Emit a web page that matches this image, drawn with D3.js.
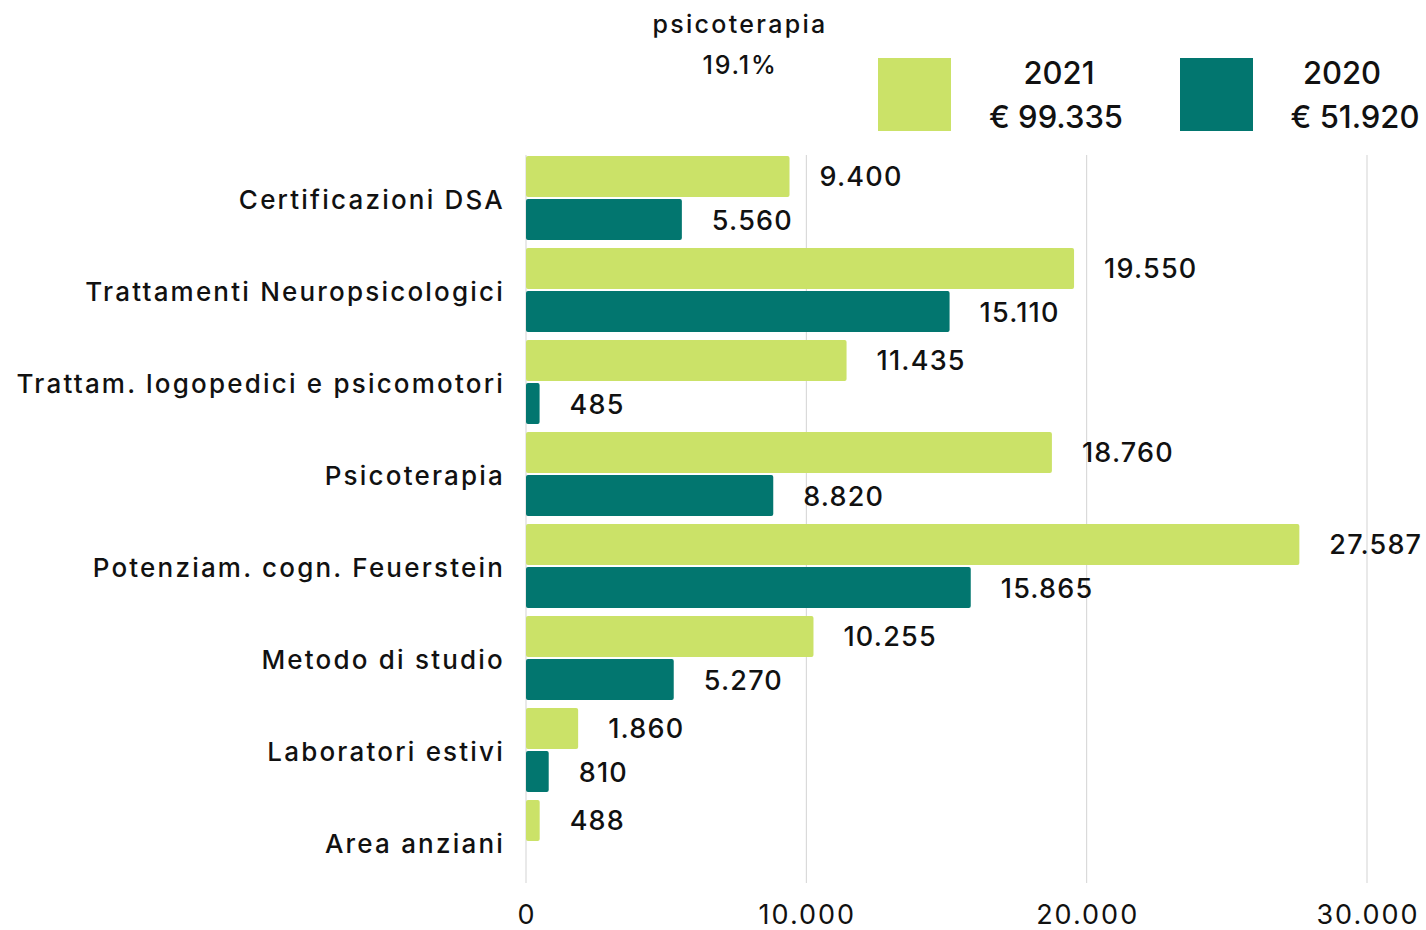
<!DOCTYPE html>
<html>
<head>
<meta charset="utf-8">
<script src="https://cdn.jsdelivr.net/npm/d3@7"></script>
<style>
  html, body { margin: 0; padding: 0; background: #fff; }
  svg { display: block; }
  text { font-family: Inter, "Open Sans", sans-serif; fill: #111; }
</style>
</head>
<body>
<svg id="chart" width="1426" height="930"></svg>
<script>
const categories = [
  "Certificazioni DSA",
  "Trattamenti Neuropsicologici",
  "Trattam. logopedici e psicomotori",
  "Psicoterapia",
  "Potenziam. cogn. Feuerstein",
  "Metodo di studio",
  "Laboratori estivi",
  "Area anziani"
];
const series = ["2021", "2020"];
const values2021 = [9400, 19550, 11435, 18760, 27587, 10255, 1860, 488];
const values2020 = [5560, 15110, 485, 8820, 15865, 5270, 810, null];
const totals = ["€ 99.335", "€ 51.920"];
const tickValues = [0, 10000, 20000, 30000];
const annotation = ["psicoterapia", "19.1%"];

const colors = { "2021": "#cbe268", "2020": "#02766f" };
const fmt = v => d3.format(",")(v).replace(/,/g, ".");

const svg = d3.select("#chart");
const x = d3.scaleLinear().domain([0, 30000]).range([526, 1367]);
const y0 = d3.scaleBand().domain(categories).range([152, 888])
  .paddingInner(8 / 92).paddingOuter(4 / 92);
const y1 = d3.scaleBand().domain(series).range([0, y0.bandwidth()]).paddingInner(0.05);

// gridlines
svg.append("g").selectAll("line").data(tickValues).join("line")
  .attr("x1", d => x(d)).attr("x2", d => x(d))
  .attr("y1", 155).attr("y2", 883)
  .attr("stroke", "#d3d3d3").attr("stroke-width", 1);

// tick labels
svg.append("g").selectAll("text").data(tickValues).join("text")
  .attr("x", d => x(d) + 1).attr("y", 924)
  .attr("text-anchor", "middle")
  .style("font-size", "27px")
  .style("letter-spacing", "2px")
  .text(d => fmt(d));

// category labels
svg.append("g").selectAll("text").data(categories).join("text")
  .attr("x", 505)
  .attr("y", d => y0(d) + y0.bandwidth() / 2 + 11)
  .attr("text-anchor", "end")
  .style("font-size", "26px")
  .style("font-weight", 500)
  .style("letter-spacing", "2.2px")
  .text(d => d);

const rows = [];
categories.forEach((c, i) => {
  rows.push({ cat: c, s: "2021", v: values2021[i] });
  if (values2020[i] != null) rows.push({ cat: c, s: "2020", v: values2020[i] });
});

// bars
svg.append("g").selectAll("rect").data(rows).join("rect")
  .attr("x", x(0))
  .attr("y", d => y0(d.cat) + y1(d.s))
  .attr("width", d => x(d.v) - x(0))
  .attr("height", y1.bandwidth())
  .attr("rx", 2)
  .attr("fill", d => colors[d.s]);

// value labels
svg.append("g").selectAll("text").data(rows).join("text")
  .attr("x", d => x(d.v) + 30)
  .attr("y", d => y0(d.cat) + y1(d.s) + y1.bandwidth() / 2 + 10)
  .style("font-size", "27px")
  .style("font-weight", 500)
  .style("letter-spacing", "1.2px")
  .text(d => fmt(d.v));

// legend
const legendX = [878, 1180];
const legendYearX = [1059, 1342];
const legendTotalX = [1056, 1355];
const lg = svg.append("g").selectAll("g").data(series).join("g");
lg.append("rect")
  .attr("x", (d, i) => legendX[i]).attr("y", 58)
  .attr("width", 73).attr("height", 73)
  .attr("fill", d => colors[d]);
lg.append("text")
  .attr("x", (d, i) => legendYearX[i]).attr("y", 84)
  .attr("text-anchor", "middle")
  .style("font-size", "31px").style("font-weight", 500)
  .text(d => d);
lg.append("text")
  .attr("x", (d, i) => legendTotalX[i]).attr("y", 128)
  .attr("text-anchor", "middle")
  .style("font-size", "31px").style("font-weight", 500)
  .text((d, i) => totals[i]);

// annotation
svg.append("g").selectAll("text").data(annotation).join("text")
  .attr("x", 740)
  .attr("y", (d, i) => 33 + i * 41)
  .attr("text-anchor", "middle")
  .style("font-size", "25px")
  .style("font-weight", 500)
  .style("letter-spacing", (d, i) => i === 0 ? "2.3px" : "1.8px")
  .text(d => d);
</script>
</body>
</html>
